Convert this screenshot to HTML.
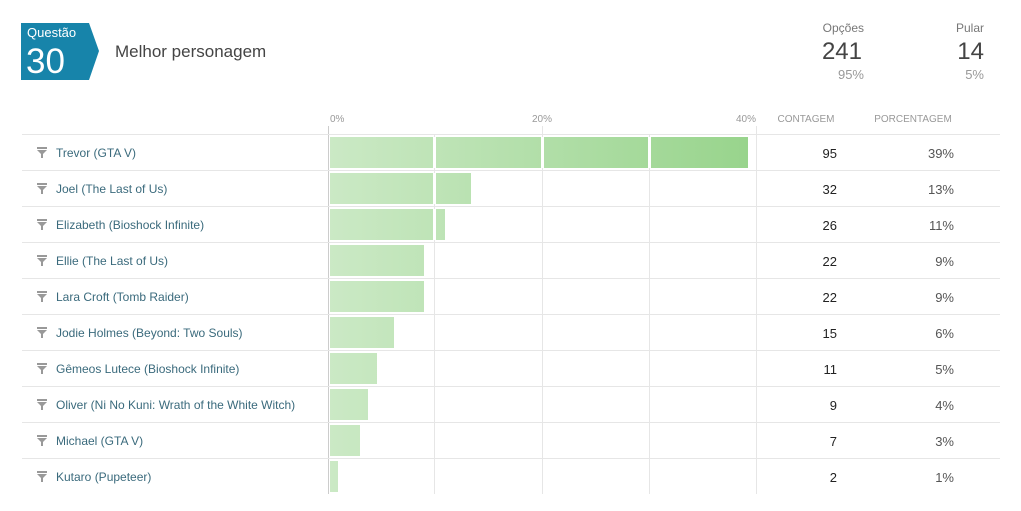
<!DOCTYPE html>
<html><head><meta charset="utf-8"><style>
html,body{margin:0;padding:0;background:#fff;}
svg{display:block;font-family:"Liberation Sans","DejaVu Sans",sans-serif;}
</style></head><body>
<svg width="1021" height="511" viewBox="0 0 1021 511" xmlns="http://www.w3.org/2000/svg">
<defs>
<linearGradient id="g" gradientUnits="userSpaceOnUse" x1="330" y1="0" x2="750" y2="0">
<stop offset="0" stop-color="#cbe9c5"/><stop offset="1" stop-color="#98d48c"/>
</linearGradient>
</defs>
<polygon points="21,23 89,23 99,51 89,80 21,80" fill="#1784aa"/>
<text x="27" y="37" font-size="13" fill="#fff">Questão</text>
<text x="26" y="73" font-size="35" fill="#fff">30</text>
<text x="115" y="57" font-size="17" fill="#444">Melhor personagem</text>
<text x="864" y="32" font-size="12" fill="#777" text-anchor="end">Opções</text>
<text x="862" y="59" font-size="24" fill="#444" text-anchor="end">241</text>
<text x="864" y="79" font-size="13" fill="#999" text-anchor="end">95%</text>
<text x="984" y="32" font-size="12" fill="#777" text-anchor="end">Pular</text>
<text x="984" y="59" font-size="24" fill="#444" text-anchor="end">14</text>
<text x="984" y="79" font-size="13" fill="#999" text-anchor="end">5%</text>
<g font-size="10" fill="#999">
<text x="330" y="122">0%</text>
<text x="542" y="122" text-anchor="middle">20%</text>
<text x="756" y="122" text-anchor="end">40%</text>
<text x="806" y="122" text-anchor="middle">CONTAGEM</text>
<text x="913" y="122" text-anchor="middle">PORCENTAGEM</text>
</g>
<g stroke="#e6e6e6" stroke-width="1">
<line x1="434.5" y1="134" x2="434.5" y2="494"/>
<line x1="542.5" y1="126" x2="542.5" y2="494"/>
<line x1="649.5" y1="134" x2="649.5" y2="494"/>
<line x1="756.5" y1="126" x2="756.5" y2="494"/>
</g>
<line x1="328.5" y1="126" x2="328.5" y2="494" stroke="#ccc"/>
<g stroke="#e6e6e6">
<line x1="22" y1="134.5" x2="1000" y2="134.5"/><line x1="22" y1="170.5" x2="1000" y2="170.5"/>
<line x1="22" y1="206.5" x2="1000" y2="206.5"/><line x1="22" y1="242.5" x2="1000" y2="242.5"/>
<line x1="22" y1="278.5" x2="1000" y2="278.5"/><line x1="22" y1="314.5" x2="1000" y2="314.5"/>
<line x1="22" y1="350.5" x2="1000" y2="350.5"/><line x1="22" y1="386.5" x2="1000" y2="386.5"/>
<line x1="22" y1="422.5" x2="1000" y2="422.5"/><line x1="22" y1="458.5" x2="1000" y2="458.5"/>
</g>
<g fill="url(#g)">
<rect x="330" y="137" width="418" height="31"/>
<rect x="330" y="173" width="141" height="31"/>
<rect x="330" y="209" width="115" height="31"/>
<rect x="330" y="245" width="94" height="31"/>
<rect x="330" y="281" width="94" height="31"/>
<rect x="330" y="317" width="64" height="31"/>
<rect x="330" y="353" width="47" height="31"/>
<rect x="330" y="389" width="38" height="31"/>
<rect x="330" y="425" width="30" height="31"/>
<rect x="330" y="461" width="8" height="31"/>
</g>
<g fill="#fff">
<rect x="433" y="137" width="3" height="31"/><rect x="541" y="137" width="3" height="31"/><rect x="648" y="137" width="3" height="31"/>
<rect x="433" y="173" width="3" height="31"/><rect x="433" y="209" width="3" height="31"/>
</g>
<g font-size="12" fill="#3a6a7c">
<text x="56" y="157">Trevor (GTA V)</text>
<text x="56" y="193">Joel (The Last of Us)</text>
<text x="56" y="229">Elizabeth (Bioshock Infinite)</text>
<text x="56" y="265">Ellie (The Last of Us)</text>
<text x="56" y="301">Lara Croft (Tomb Raider)</text>
<text x="56" y="337">Jodie Holmes (Beyond: Two Souls)</text>
<text x="56" y="373">Gêmeos Lutece (Bioshock Infinite)</text>
<text x="56" y="409">Oliver (Ni No Kuni: Wrath of the White Witch)</text>
<text x="56" y="445">Michael (GTA V)</text>
<text x="56" y="481">Kutaro (Pupeteer)</text>
</g>
<g fill="#999">
<path d="M37,147h10v2h-10zM37,150h10l-4,4v4h-2v-4z"/>
<path d="M37,183h10v2h-10zM37,186h10l-4,4v4h-2v-4z"/>
<path d="M37,219h10v2h-10zM37,222h10l-4,4v4h-2v-4z"/>
<path d="M37,255h10v2h-10zM37,258h10l-4,4v4h-2v-4z"/>
<path d="M37,291h10v2h-10zM37,294h10l-4,4v4h-2v-4z"/>
<path d="M37,327h10v2h-10zM37,330h10l-4,4v4h-2v-4z"/>
<path d="M37,363h10v2h-10zM37,366h10l-4,4v4h-2v-4z"/>
<path d="M37,399h10v2h-10zM37,402h10l-4,4v4h-2v-4z"/>
<path d="M37,435h10v2h-10zM37,438h10l-4,4v4h-2v-4z"/>
<path d="M37,471h10v2h-10zM37,474h10l-4,4v4h-2v-4z"/>
</g>
<g font-size="13" fill="#222" text-anchor="end">
<text x="837" y="158">95</text><text x="837" y="194">32</text><text x="837" y="230">26</text>
<text x="837" y="266">22</text><text x="837" y="302">22</text><text x="837" y="338">15</text>
<text x="837" y="374">11</text><text x="837" y="410">9</text><text x="837" y="446">7</text>
<text x="837" y="482">2</text>
</g>
<g font-size="13" fill="#555" text-anchor="end">
<text x="954" y="158">39%</text><text x="954" y="194">13%</text><text x="954" y="230">11%</text>
<text x="954" y="266">9%</text><text x="954" y="302">9%</text><text x="954" y="338">6%</text>
<text x="954" y="374">5%</text><text x="954" y="410">4%</text><text x="954" y="446">3%</text>
<text x="954" y="482">1%</text>
</g>
</svg>
</body></html>
